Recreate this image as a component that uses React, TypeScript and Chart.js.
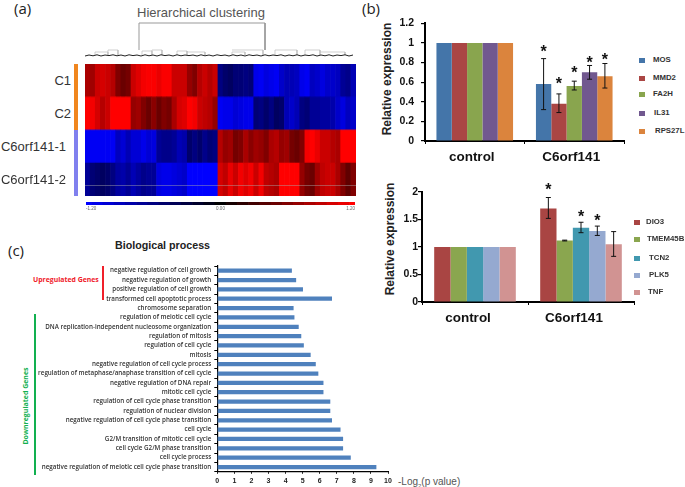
import React, { useEffect, useRef } from "react";
import { Chart, registerables } from "chart.js";

Chart.register(...registerables);

const SANS = "'Liberation Sans', Arial, sans-serif";
const OPEN = "'Open Sans', sans-serif";

// ---------- panel (a) heat map ----------
const heatColumns = Array.from({ length: 53 }, (_, i) => String(i));
const heatRowNames = ["C1", "C2", "C6orf141-1", "C6orf141-2"];
const rowC1 = [.8,.75,.95,1.0,.95,.85,.6,.5,.55,.95,1.05,1.15,1.18,1.18,1.1,1.18,1.18,.95,.95,.95,.7,.6,.85,.95,.85,.95,
  -.6,-.5,-.45,-.55,-.55,-.6,-.55,-1.1,-1.15,-1.05,-1.1,-1.15,-.95,-.85,-.85,-.9,-1.1,-1.15,-.9,-.95,-1.05,-.95,-.95,-.9,-.7,-.65,-.85];
const rowC2 = [1.2,1.15,1.0,.85,.95,1.2,1.2,1.2,1.2,.7,.75,.6,.5,.65,.5,.6,.55,.8,1.0,1.05,1.2,1.15,.95,.9,.85,.7,
  -1.15,-1.1,-1.1,-1.0,-1.05,-1.1,-1.1,-.55,-.6,-.5,-.6,-.45,-.5,-.85,-.95,-.85,-.6,-.55,-.7,-.7,-.75,-.75,-.8,-.95,-1.05,-.9,-.95];
const rowK1 = [-1.15,-1.15,-1.15,-1.15,-1.15,-1.15,-.9,-1.0,-.85,-1.0,-1.0,-1.1,-1.0,-1.05,-.7,-.65,-.65,-.7,-.85,-.8,-.5,-.6,-.5,-.65,-.55,-.6,
  .85,.7,.75,.55,.6,.8,.65,.75,.7,.6,.8,.85,.7,.75,.55,.5,.6,1.15,1.2,1.1,.95,.95,.85,.8,1.2,1.2,1.2];
const rowK2 = [-.7,-.55,-.5,-.45,-.5,-.6,-.75,-.8,-.7,-.85,-.75,-.65,-.7,-.7,-1.05,-1.1,-1.1,-1.05,-1.0,-.95,-1.2,-1.2,-1.2,-1.2,-1.2,-1.2,
  1.0,.9,1.1,.95,1.15,1.05,1.15,.95,1.15,.9,.85,.8,1.2,1.2,1.2,1.2,.7,.55,.5,.75,.9,.95,.95,.8,.6,.45,.6];
const colorbarStops = [-1.2,-1.1,-1.0,-.9,-.8,-.7,-.6,-.5,-.4,-.3,-.2,-.1,0,.1,.2,.3,.4,.5,.6,.7,.8,.9,1.0,1.1,1.2];

// dendrogram (x along the columns, y = merge height)
const dendroNoise = [2,3,2.2,3.2,2,3,2.4,3.2,2.2,3,2,3.2,2.4,3,2,3.2,2.2,3,2,3.2,2.4,3,2,3.2,2.2,3,2.4,3,2,3.2,2.2,3,2,3.2,2.4,3,2,3.2,2.2,3,
  2,3.2,2.4,3,2,3.2,2.2,3,2.4,3.2,2,3,2.2,3.2,2,3,2.4,3.2,2,3,2.2,3.2,2,3,2.4,3.2,2,3];
const dendroMain = [[54, 8], [54, 35], [180, 35], [180, 8]];
const dendroSmall = [[[10,3],[10,6],[23,6],[23,3]], [[23,6],[23,8],[33,8],[33,3]], [[57,3],[57,7],[67,7],[67,3]],
  [[67,7],[67,8],[77,8],[77,3]], [[92,3],[92,7],[102,7],[102,3]], [[102,6],[120,6],[120,3]],
  [[147,3],[147,6],[160,6],[160,3]], [[147,8],[178,8],[178,3]], [[190,3],[190,8],[212,8],[212,3]],
  [[220,3],[220,8],[235,8],[235,3]], [[235,6],[260,6],[260,3]]];

// ---------- panel (b) ----------
const groupNames = ["control", "C6orf141"];
const b1Names = ["MOS", "MMD2", "FA2H", "IL31", "RPS27L"];
const b1Control = [1, 1, 1, 1, 1];
const b1Treated = [0.58, 0.38, 0.56, 0.70, 0.66];
const b1Low = [0.32, 0.29, 0.52, 0.63, 0.54];
const b1High = [0.84, 0.48, 0.61, 0.77, 0.79];
const b1Stars = [0.95, 0.625, 0.735, 0.84, 0.87];
const b1Colors = ["#4475A9", "#AA4644", "#89A54E", "#71588F", "#DB843D"];

const b2Names = ["DIO3", "TMEM45B", "TCN2", "PLK5", "TNF"];
const b2Control = [1, 1, 1, 1, 1];
const b2Treated = [1.7, 1.12, 1.35, 1.29, 1.05];
const b2Low = [1.52, 1.11, 1.26, 1.21, 0.83];
const b2High = [1.9, 1.125, 1.45, 1.38, 1.28];
const b2Stars = [2.11, null, 1.62, 1.55, null];
const b2Colors = ["#A94543", "#8AA64F", "#4198AF", "#95A9D0", "#D19392"];

// ---------- panel (c) ----------
const goTerms = [
  "negative regulation of cell growth", "negative regulation of growth", "positive regulation of cell growth",
  "transformed cell apoptotic process", "chromosome separation", "regulation of meiotic cell cycle",
  "DNA replication-independent nucleosome organization", "regulation of mitosis", "regulation of cell cycle",
  "mitosis", "negative regulation of cell cycle process", "regulation of metaphase/anaphase transition of cell cycle",
  "negative regulation of DNA repair", "mitotic cell cycle", "regulation of cell cycle phase transition",
  "regulation of nuclear division", "negative regulation of cell cycle phase transition", "cell cycle",
  "G2/M transition of mitotic cell cycle", "cell cycle G2/M phase transition", "cell cycle process",
  "negative regulation of meiotic cell cycle phase transition",
];
const goValues = [4.35, 4.6, 5.0, 6.7, 4.45, 4.5, 4.75, 4.9, 5.05, 5.45, 5.75, 5.9, 6.2, 6.2, 6.6, 6.6, 6.7, 7.2, 7.35, 7.35, 7.8, 9.3];

function heatColor(v: number) {
  const c = Math.round((Math.abs(v) / 1.2) * 255);
  return v >= 0 ? `rgb(${c},0,0)` : `rgb(0,0,${c})`;
}

function fixed(width: number | null, height: number | null) {
  return (s: any) => {
    if (width != null) s.width = width;
    if (height != null) s.height = height;
  };
}

function marks(low: number[], high: number[], stars: (number | null)[]) {
  return {
    id: "marks",
    afterDatasetsDraw(chart: any) {
      const { ctx, scales } = chart;
      ctx.save();
      chart.data.datasets.forEach((_: any, i: number) => {
        const x = chart.getDatasetMeta(i).data[1].x;
        const yl = scales.y.getPixelForValue(low[i]);
        const yh = scales.y.getPixelForValue(high[i]);
        ctx.strokeStyle = "#111";
        ctx.lineWidth = 1;
        ctx.beginPath();
        ctx.moveTo(x, yl); ctx.lineTo(x, yh);
        ctx.moveTo(x - 2.5, yl); ctx.lineTo(x + 2.5, yl);
        ctx.moveTo(x - 2.5, yh); ctx.lineTo(x + 2.5, yh);
        ctx.stroke();
        const s = stars[i];
        if (s != null) {
          ctx.fillStyle = "#111";
          ctx.font = `bold 16px ${SANS}`;
          ctx.textAlign = "center";
          ctx.textBaseline = "alphabetic";
          ctx.fillText("*", x, scales.y.getPixelForValue(s) + 9);
        }
      });
      ctx.restore();
    },
  };
}

function useChart(make: (c: HTMLCanvasElement) => Chart) {
  const ref = useRef<HTMLCanvasElement>(null);
  useEffect(() => {
    const chart = make(ref.current!);
    return () => chart.destroy();
  }, []);
  return ref;
}

function Cv({ maker, left, top, width, height }: any) {
  const ref = useChart(maker);
  return <canvas ref={ref} width={width} height={height} style={{ position: "absolute", left, top, width, height }} />;
}

function T({ x, y, right, size = 10, color = "#222", weight = 400, family = SANS, rotate, children }: any) {
  const style: any = {
    position: "absolute", top: y, whiteSpace: "nowrap", fontSize: size, color, fontWeight: weight,
    fontFamily: family, lineHeight: 1, transform: rotate ? "translate(-50%,-50%) rotate(-90deg)" : "translateY(-50%)",
  };
  if (right != null) style.right = 685 - right; else style.left = x;
  return <div style={style}>{children}</div>;
}

const base = { animation: false, responsive: false, maintainAspectRatio: false } as any;
const noPlugins = { legend: { display: false }, tooltip: { enabled: false }, title: { display: false } };

function heatChart(c: HTMLCanvasElement) {
  const rows = [rowK2, rowK1, rowC2, rowC1];
  return new Chart(c, {
    type: "bar",
    data: {
      labels: heatColumns,
      datasets: rows.map((r) => ({
        data: r.map(() => 1),
        backgroundColor: r.map(heatColor),
        borderWidth: 0,
        barPercentage: 1,
        categoryPercentage: 1,
      })),
    },
    options: {
      ...base,
      layout: { padding: 0 },
      plugins: noPlugins,
      scales: {
        x: { display: false, stacked: true },
        y: { display: false, stacked: true, min: 0, max: 4 },
      },
    },
  } as any);
}

function dendroChart(c: HTMLCanvasElement) {
  const small: any[] = [];
  dendroSmall.forEach((seg) => {
    seg.forEach((p) => small.push({ x: p[0], y: p[1] }));
    small.push({ x: seg[seg.length - 1][0], y: null });
  });
  return new Chart(c, {
    type: "scatter",
    data: {
      datasets: [
        { data: dendroNoise.map((h, i) => ({ x: i * 4, y: h })), showLine: true, pointRadius: 0, borderColor: "#222", borderWidth: 1 },
        { data: small, showLine: true, pointRadius: 0, borderColor: "#bbb", borderWidth: 0.7, spanGaps: false },
        { data: dendroMain.map((p) => ({ x: p[0], y: p[1] })), showLine: true, pointRadius: 0, borderColor: "#999", borderWidth: 1 },
      ],
    },
    options: {
      ...base,
      layout: { padding: 0 },
      plugins: noPlugins,
      scales: { x: { display: false, min: 0, max: 271 }, y: { display: false, min: 0, max: 38 } },
    },
  } as any);
}

function colorbarChart(c: HTMLCanvasElement) {
  return new Chart(c, {
    type: "bar",
    data: {
      datasets: [{
        data: colorbarStops.map((v) => ({ x: v, y: 1 })),
        backgroundColor: colorbarStops.map(heatColor),
        borderWidth: 0,
        barPercentage: 1,
        categoryPercentage: 1,
      }],
    },
    options: {
      ...base,
      layout: { padding: 0 },
      plugins: noPlugins,
      scales: {
        x: {
          type: "linear", min: -1.2, max: 1.2, offset: false, border: { display: false },
          grid: { display: true, drawOnChartArea: false, drawTicks: false },
          afterFit: fixed(null, 9),
          ticks: { stepSize: 1.2, align: "inner", padding: 1, maxRotation: 0, color: "#666", font: { size: 4.5, family: SANS }, callback: (v: any) => Number(v).toFixed(2) },
        },
        y: { display: false, min: 0, max: 1 },
      },
    },
  } as any);
}

function groupChart(names: string[], control: number[], treated: number[], colors: string[], low: number[], high: number[], stars: (number | null)[], max: number, step: number, yWidth: number, xHeight: number, padTop: number, padRight: number, yPad: number, labelShift: number) {
  return (c: HTMLCanvasElement) =>
    new Chart(c, {
      type: "bar",
      data: {
        labels: groupNames,
        datasets: names.map((n, i) => ({
          label: n,
          data: [control[i], treated[i]],
          backgroundColor: colors[i],
          borderWidth: 0,
          barPercentage: 1,
          categoryPercentage: 0.77,
        })),
      },
      options: {
        ...base,
        layout: { padding: { top: padTop, right: padRight, left: 0, bottom: 0 } },
        plugins: noPlugins,
        scales: {
          x: {
            afterFit: fixed(null, xHeight),
            border: { color: "#000", width: 2 },
            grid: { offset: true, drawOnChartArea: false, tickLength: 3, color: "#000", lineWidth: 1 },
            ticks: { color: "#111", padding: 5, maxRotation: 0, labelOffset: labelShift, font: { size: 13.5, weight: "bold", family: SANS } },
          },
          y: {
            min: 0, max,
            afterFit: fixed(yWidth, null),
            border: { color: "#000", width: 2 },
            grid: { drawOnChartArea: false, tickLength: 4, color: "#000", lineWidth: 1.2 },
            ticks: { stepSize: step, color: "#111", padding: yPad, font: { size: 10.5, weight: "bold", family: SANS }, callback: (v: any) => String(Number(Number(v).toFixed(1))) },
          },
        },
      },
      plugins: [marks(low, high, stars)],
    } as any);
}

function goChart(c: HTMLCanvasElement) {
  return new Chart(c, {
    type: "bar",
    data: {
      labels: goTerms,
      datasets: [{ data: goValues, backgroundColor: "#4F81BD", borderWidth: 0, barThickness: 3.6 }],
    },
    options: {
      ...base,
      indexAxis: "y",
      layout: { padding: { top: 8, right: 7, left: 0, bottom: 0 } },
      plugins: noPlugins,
      scales: {
        x: {
          min: 0, max: 10,
          afterFit: fixed(null, 15.3),
          border: { color: "#000", width: 1.2 },
          grid: { drawOnChartArea: false, tickLength: 2, color: "#000" },
          ticks: { stepSize: 1, padding: 3, color: "#222", maxRotation: 0, font: { size: 7, weight: "bold", family: SANS } },
        },
        y: {
          afterFit: fixed(187.3, null),
          border: { color: "#000", width: 1.2 },
          grid: { offset: true, drawOnChartArea: false, tickLength: 3, color: "#000" },
          ticks: { autoSkip: false, padding: 3, color: "#333", maxRotation: 0, font: { size: 6.25, weight: "600", family: OPEN } },
        },
      },
    },
  } as any);
}

const b1Legend = [[639, 653, 60], [639, 653, 78], [639, 653, 94], [639, 654, 113], [639, 655, 131]];
const b2Legend = [[634, 646, 222], [634, 647, 239], [634, 649, 258], [634, 649, 275], [634, 648, 292]];

function Legend({ names, colors, layout }: any) {
  return (
    <>
      {names.map((n: string, i: number) => (
        <React.Fragment key={n}>
          <div style={{ position: "absolute", left: layout[i][0], top: layout[i][2] - 2.5, width: 6, height: 5.5, background: colors[i] }} />
          <T x={layout[i][1]} y={layout[i][2]} size={7.8} weight={700} color="#333">{n}</T>
        </React.Fragment>
      ))}
    </>
  );
}

export default function App() {
  return (
    <div style={{ position: "fixed", left: 0, top: 0, width: 685, height: 487, background: "#fff", overflow: "hidden", filter: "blur(0.35px)" }}>
      <T x={14} y={8} size={15} color="#222" family={OPEN}>(a)</T>
      <T x={362} y={8} size={15} color="#222" family={OPEN}>(b)</T>
      <T x={8} y={250} size={15} color="#222" family={OPEN}>(c)</T>

      <T x={137} y={12} size={13} color="#555">Hierarchical clustering</T>
      <Cv maker={dendroChart} left={85} top={20} width={271} height={38} />
      <Cv maker={heatChart} left={85} top={64} width={271} height={131.5} />
      <div style={{ position: "absolute", left: 85, top: 185, width: 271, height: 1, background: "rgba(170,170,170,.45)" }} />
      <div style={{ position: "absolute", left: 73.5, top: 64, width: 4, height: 66, background: "#F0861E" }} />
      <div style={{ position: "absolute", left: 73.5, top: 130, width: 4, height: 65.5, background: "#8080EE" }} />
      <T right={71} y={80} size={13} color="#333">{heatRowNames[0]}</T>
      <T right={71} y={113} size={13} color="#333">{heatRowNames[1]}</T>
      <T right={66} y={146} size={13} color="#333">{heatRowNames[2]}</T>
      <T right={66} y={179} size={13} color="#333">{heatRowNames[3]}</T>
      <Cv maker={colorbarChart} left={85} top={201.5} width={271} height={12} />

      <T x={387} y={79} rotate size={12} weight={700} color="#222">Relative expression</T>
      <Cv maker={groupChart(b1Names, b1Control, b1Treated, b1Colors, b1Low, b1High, b1Stars, 1.2, 0.2, 53, 29, 12, 6, 7, -3)} left={372} top={10} width={258} height={160} />
      <Legend names={b1Names} colors={b1Colors} layout={b1Legend} />

      <T x={390} y={239} rotate size={12} weight={700} color="#222">Relative expression</T>
      <Cv maker={groupChart(b2Names, b2Control, b2Treated, b2Colors, b2Low, b2High, b2Stars, 2, 0.5, 50, 23, 17, 4, 0, -7)} left={372} top={175} width={266} height={150} />
      <Legend names={b2Names} colors={b2Colors} layout={b2Legend} />

      <T x={115} y={245} size={10.7} weight={700} color="#222">Biological process</T>
      <T x={33} y={280} size={6.9} weight={700} color="#F0202A" family={OPEN}>Upregulated Genes</T>
      <div style={{ position: "absolute", left: 102, top: 266, width: 2, height: 34, background: "#F0202A" }} />
      <div style={{ position: "absolute", left: 34, top: 314, width: 2, height: 161, background: "#12B050" }} />
      <T x={25} y={406} rotate size={7} weight={700} color="#12B050" family={OPEN}>Downregulated Genes</T>
      <Cv maker={goChart} left={30} top={258} width={365} height={229} />
      <T x={398} y={483} size={10} color="#555">-Log<sub style={{ fontSize: 6 }}>2</sub>(p value)</T>
    </div>
  );
}
